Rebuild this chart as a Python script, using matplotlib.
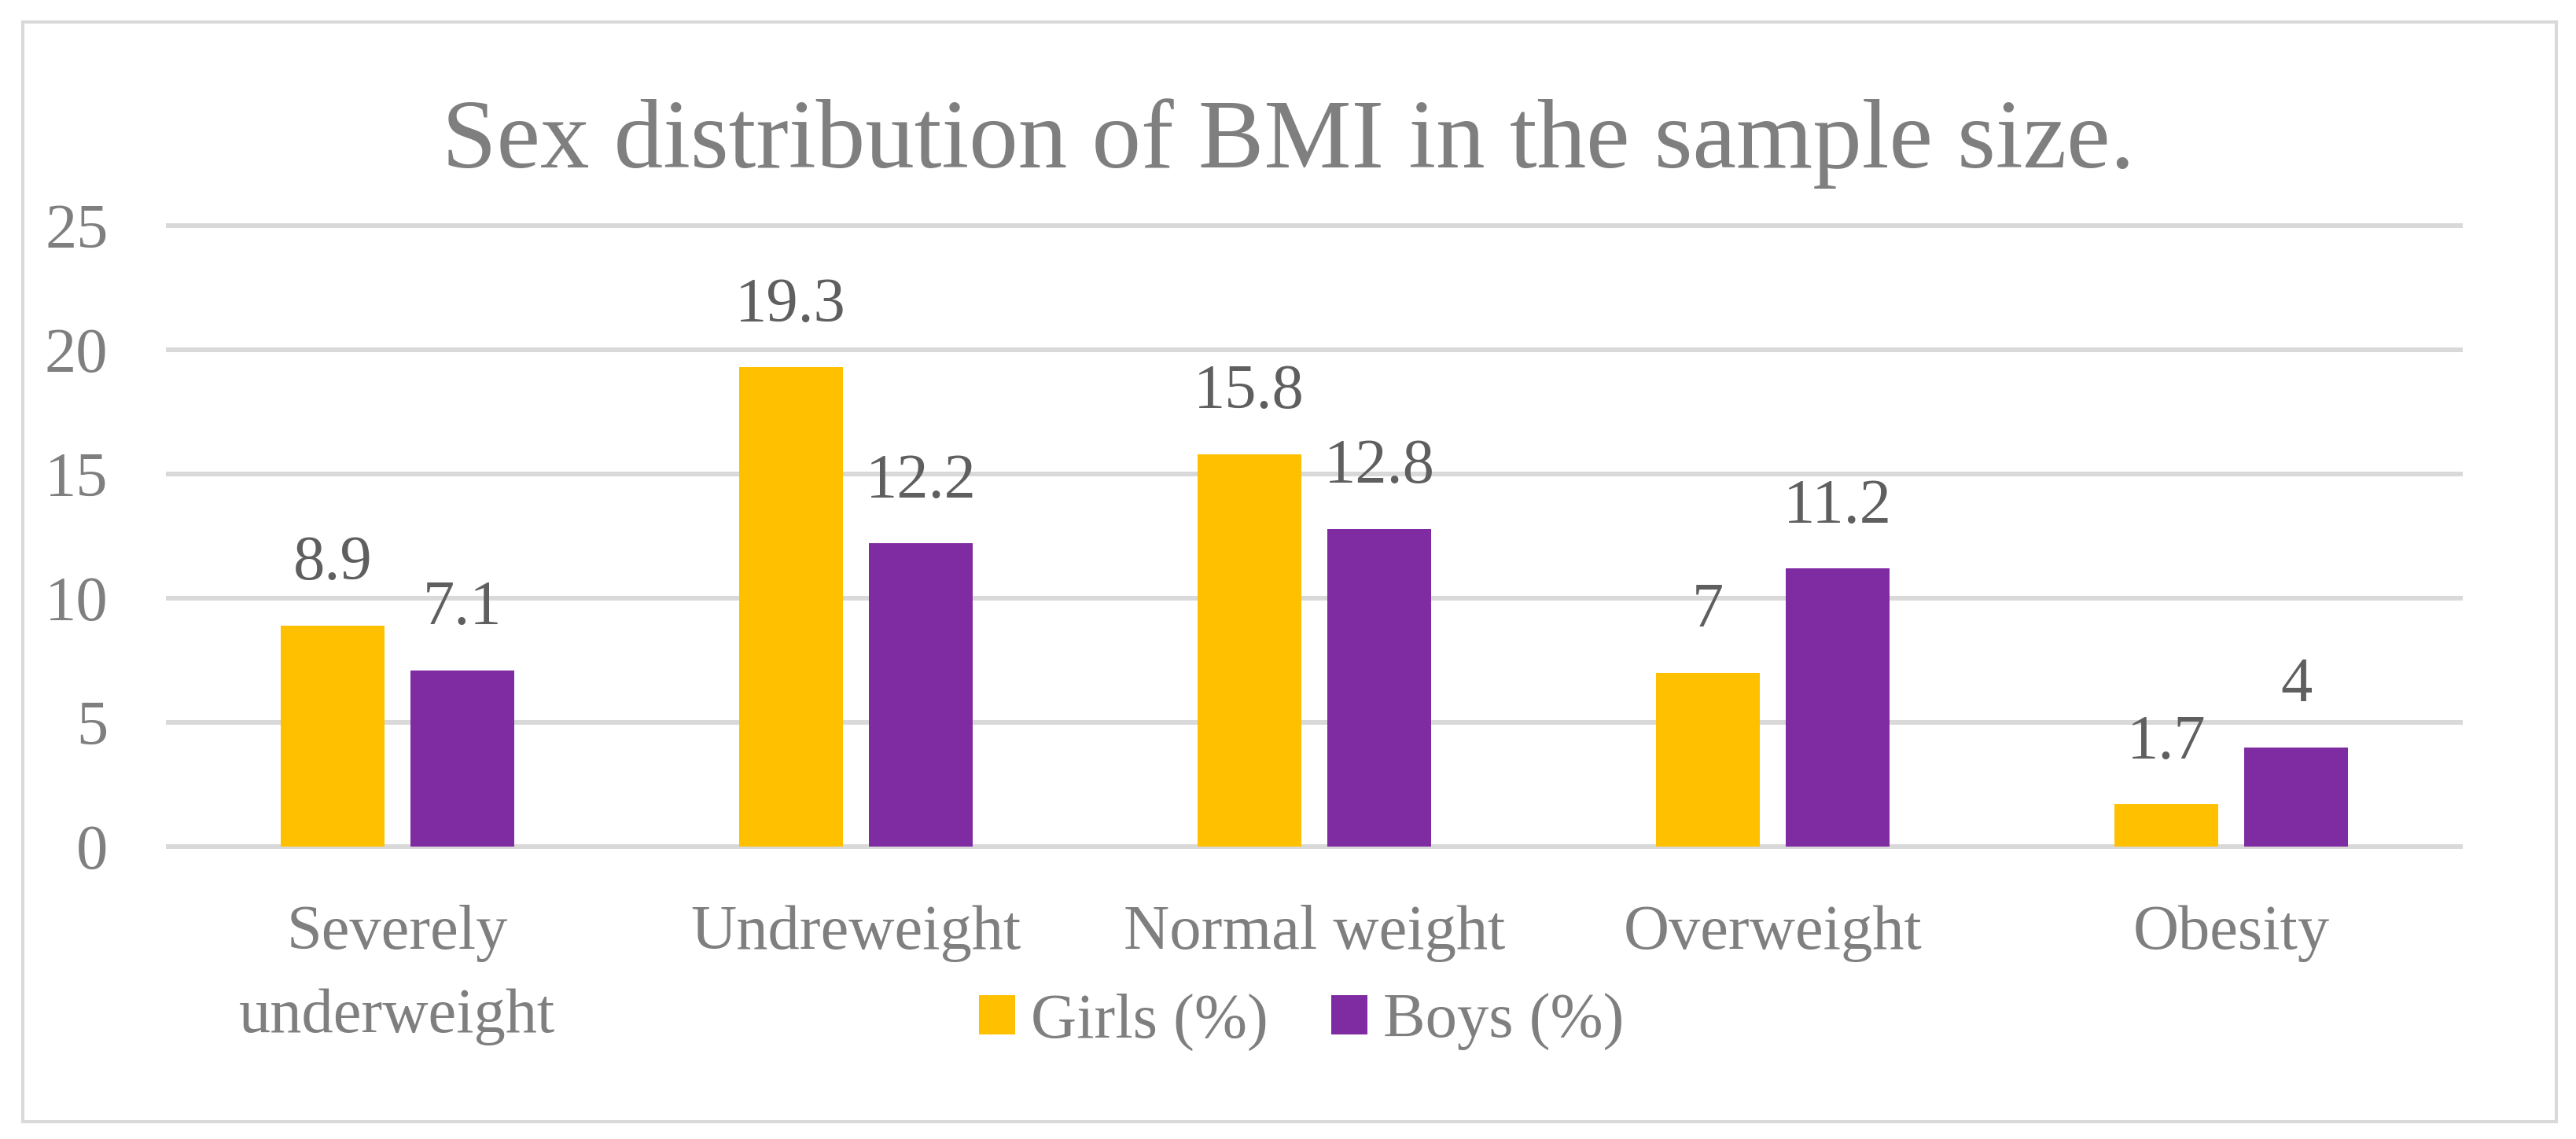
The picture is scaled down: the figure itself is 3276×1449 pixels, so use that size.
import matplotlib
matplotlib.use("Agg")
import matplotlib.pyplot as plt
from matplotlib.patches import Rectangle, Patch
import numpy as np

categories = ["Severely\nunderweight", "Undreweight", "Normal weight", "Overweight", "Obesity"]
girls = [8.9, 19.3, 15.8, 7, 1.7]
boys = [7.1, 12.2, 12.8, 11.2, 4]
series_names = ["Girls (%)", "Boys (%)"]
yticks = [0, 5, 10, 15, 20, 25]
title = "Sex distribution of BMI in the sample size."

W, H = 3276, 1449
DPI = 100
FONT = "Liberation Serif"
TXT = "#7f7f7f"
LBL = "#5f5f5f"
GRID = "#d9d9d9"
YEL = "#FFC000"
PUR = "#7F2BA1"

fig = plt.figure(figsize=(W / DPI, H / DPI), dpi=DPI)
plt.rcParams["font.family"] = FONT

# axes placement in pixels
x0, x1 = 214, 3129
ytop, ybot = 287, 1077
ax = fig.add_axes([x0 / W, 1 - ybot / H, (x1 - x0) / W, (ybot - ytop) / H])

x = np.arange(len(categories))
bw = 0.226
off = 0.142
b1 = ax.bar(x - off, girls, bw, color=YEL, label=series_names[0], zorder=3)
b2 = ax.bar(x + off, boys, bw, color=PUR, label=series_names[1], zorder=3)

fs = 58
for bars, vals in ((b1, girls), (b2, boys)):
    for r, v in zip(bars, vals):
        ax.annotate(f"{v:g}", (r.get_x() + r.get_width() / 2, v),
                    xytext=(0, 42), textcoords="offset points",
                    ha="center", va="baseline", fontsize=fs, color=LBL,
                    family=FONT)

ax.set_xlim(-0.5, len(categories) - 0.5)
ax.set_ylim(0, 25)
ax.set_yticks(yticks)
ax.set_xticks(x)
ax.set_xticklabels(categories, fontsize=fs, color=TXT, family=FONT,
                   linespacing=1.59)
ax.set_yticklabels([str(t) for t in yticks], fontsize=fs, color=TXT, family=FONT)
ax.tick_params(axis="y", length=0, pad=55)
ax.tick_params(axis="x", length=0, pad=53)
for s in ax.spines.values():
    s.set_visible(False)
ax.yaxis.grid(True, color=GRID, linewidth=4.3)
ax.set_axisbelow(True)
for gl in ax.get_ygridlines():
    gl.set_clip_on(False)

fig.text(0.5, 1 - 213 / H, title, ha="center", va="baseline",
         fontsize=90, color=TXT, family=FONT)

handles = [Patch(facecolor=YEL, edgecolor="none"), Patch(facecolor=PUR, edgecolor="none")]
fig.legend(handles, series_names, loc="center", bbox_to_anchor=(1655 / W, 1 - 1300 / H),
           ncol=2, frameon=False, labelcolor=TXT,
           handlelength=0.57, handleheight=0.57, handletextpad=0.25,
           columnspacing=1.0, prop={"family": FONT, "size": fs})

fig.patches.append(Rectangle((29 / W, 1 - 1427 / H), (3251 - 29) / W, (1427 - 28) / H,
                             transform=fig.transFigure, fill=False,
                             edgecolor=GRID, linewidth=2.9, zorder=0))

fig.savefig("out.png", dpi=DPI, facecolor="white")
